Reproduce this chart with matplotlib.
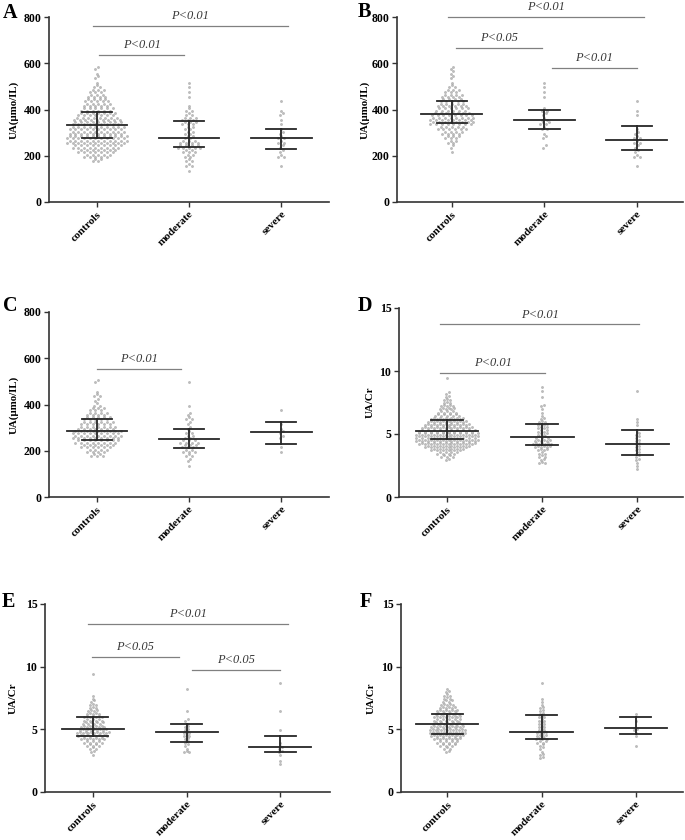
import matplotlib
matplotlib.use("Agg")
import matplotlib.pyplot as plt

plt.rcParams["font.family"] = ["Liberation Serif", "DejaVu Serif"]

groups = ["controls", "moderate", "severe"]

# dot clouds: (value of first bin, dots per bin)
UA_STEP = 20
RATIO_STEP = 0.25

a_controls = (180, [4, 10, 14, 18, 22, 22, 20, 20, 18, 17, 14, 12, 10, 9, 7, 6, 3, 1, 2, 1, 2])
a_moderate = (140, [1, 3, 3, 4, 5, 9, 7, 4, 4, 4, 6, 6, 3, 3, 1, 0, 1, 1, 1, 1])
a_severe = (160, [1, 0, 3, 2, 2, 3, 3, 2, 1, 1, 1, 2, 1, 0, 1])

b_controls = (220, [1, 2, 4, 6, 8, 11, 16, 16, 15, 12, 11, 9, 8, 6, 3, 1, 2, 2, 2])
b_moderate = (240, [2, 0, 2, 1, 3, 4, 3, 2, 3, 0, 0, 1, 1, 1, 1])
b_severe = (160, [1, 0, 3, 2, 2, 3, 3, 2, 1, 0, 0, 1, 1, 0, 1])

c_controls = (180, [5, 8, 12, 16, 18, 18, 14, 12, 10, 8, 6, 3, 2, 3, 1, 0, 2])
c_moderate = (140, [1, 2, 3, 5, 6, 7, 4, 3, 2, 2, 3, 2, 0, 1, 0, 0, 0, 0, 1])
c_severe = (200, [1, 1, 0, 2, 2, 1, 1, 0, 0, 1])

d_controls = (3.0, [2, 5, 8, 12, 16, 20, 22, 22, 22, 20, 18, 16, 14, 12, 9, 7, 6, 5, 3, 3,
                    2, 2, 0, 0, 0, 0, 1])
d_moderate = (2.75, [3, 2, 3, 3, 4, 6, 7, 6, 5, 4, 4, 4, 4, 3, 2, 1, 1, 1, 2, 0, 0, 1, 0, 1, 1])
d_severe = (2.25, [1, 1, 1, 2, 2, 2, 2, 2, 2, 2, 2, 2, 1, 0, 1, 1, 1, 0, 0, 0, 0, 0, 0, 0, 0, 1])

e_controls = (3.0, [1, 2, 3, 5, 7, 9, 11, 12, 10, 9, 8, 7, 7, 5, 4, 3, 3, 2, 1, 1,
                    0, 0, 0, 0, 0, 0, 1])
e_moderate = (3.25, [3, 1, 2, 2, 2, 3, 3, 2, 2, 1, 2, 0, 0, 1, 0, 0, 0, 0, 0, 0, 1])
e_severe = (2.25, [1, 1, 0, 1, 2, 2, 1, 1, 0, 0, 0, 1, 0, 0, 0, 0, 0, 1, 0, 0, 0, 0, 0, 0, 0, 0, 1])

f_controls = (3.25, [2, 3, 6, 8, 10, 12, 13, 13, 12, 11, 10, 10, 9, 8, 6, 5, 4, 3, 3, 2, 1])
f_moderate = (2.75, [2, 2, 1, 2, 2, 4, 5, 4, 4, 3, 3, 3, 3, 3, 2, 2, 2, 1, 1, 1, 0, 0, 0, 0, 1])
f_severe = (3.75, [1, 0, 0, 1, 1, 2, 0, 0, 1, 0, 1])

# median and interquartile range bars
a_median, a_q1, a_q3 = [335, 278, 275], [275, 240, 228], [388, 352, 316]
b_median, b_q1, b_q3 = [382, 355, 268], [340, 316, 226], [435, 400, 327]
c_median, c_q1, c_q3 = [287, 252, 283], [247, 212, 230], [338, 292, 326]
d_median, d_q1, d_q3 = [5.25, 4.75, 4.2], [4.6, 4.15, 3.35], [6.15, 5.8, 5.35]
e_median, e_q1, e_q3 = [5.05, 4.75, 3.6], [4.5, 4.0, 3.2], [5.95, 5.4, 4.5]
f_median, f_q1, f_q3 = [5.4, 4.75, 5.1], [4.6, 4.25, 4.6], [6.2, 6.15, 5.95]

# significance brackets: (x from, x to, height, label)
a_sig = [(0.02, 0.95, 636, "P<0.01"), (-0.04, 2.07, 761, "P<0.01")]
b_sig = [(-0.04, 2.08, 800, "P<0.01"), (0.04, 0.97, 666, "P<0.05"), (1.08, 2.0, 580, "P<0.01")]
c_sig = [(0.0, 0.91, 553, "P<0.01")]
d_sig = [(-0.07, 2.02, 13.7, "P<0.01"), (-0.07, 1.03, 9.84, "P<0.01")]
e_sig = [(-0.05, 2.08, 13.4, "P<0.01"), (-0.01, 0.92, 10.77, "P<0.05"), (1.06, 2.0, 9.73, "P<0.05")]
f_sig = []

W, H = 685, 840
DX = 0.031
LINE = "#262626"


def draw_panel(letter, px_box, xlim, clouds, step, med, q1, q3, sig, ylabel, ymax, yticks,
               ylab_x, letter_xy):
    left, top, right, bottom = px_box
    ax = fig.add_axes([left / W, 1 - bottom / H, (right - left) / W, (bottom - top) / H])
    for i, (start, counts) in enumerate(clouds):
        xs, ys = [], []
        for k, n in enumerate(counts):
            y0 = start + k * step
            for j in range(n):
                xs.append(i + (j - (n - 1) / 2) * DX)
                ys.append(y0 + (0.22 * step if j % 2 else -0.22 * step))
        ax.scatter(xs, ys, s=2.4, color="#bdbdbd", edgecolor="#9c9c9c", linewidth=0.3, zorder=2)
        ax.plot([i - 0.33, i + 0.33], [med[i], med[i]], color=LINE, lw=1.3, zorder=3)
        ax.plot([i - 0.165, i + 0.165], [q1[i], q1[i]], color=LINE, lw=1.3, zorder=3)
        ax.plot([i - 0.165, i + 0.165], [q3[i], q3[i]], color=LINE, lw=1.3, zorder=3)
        ax.plot([i, i], [q1[i], q3[i]], color=LINE, lw=1.3, zorder=3)
    for x0, x1, y, label in sig:
        ax.plot([x0, x1], [y, y], color="#808080", lw=0.9, clip_on=False)
        ax.annotate(label, xy=((x0 + x1) / 2, y), xytext=(0, 7), textcoords="offset points",
                    ha="center", va="center", fontsize=9, style="italic", color="#3a3a3a",
                    annotation_clip=False)
    ax.set_xlim(*xlim)
    ax.set_ylim(0, ymax)
    ax.set_yticks(yticks)
    ax.set_yticklabels([str(t) for t in yticks], fontsize=8.5, fontweight="bold")
    ax.set_xticks(range(len(groups)))
    ax.set_xticklabels(groups, rotation=45, ha="right", rotation_mode="anchor",
                       fontsize=8, fontweight="bold")
    ax.set_ylabel(ylabel, fontsize=7.8, fontweight="bold")
    ax.yaxis.set_label_coords(ylab_x, 0.5)
    for side in ("top", "right"):
        ax.spines[side].set_visible(False)
    for side in ("left", "bottom"):
        ax.spines[side].set_linewidth(1.2)
        ax.spines[side].set_color("#333333")
    ax.tick_params(length=3.5, width=1.0, color="#333333", pad=2)
    fig.text(letter_xy[0] / W, 1 - letter_xy[1] / H, letter, fontsize=14.5, fontweight="bold",
             va="baseline", ha="left")
    return ax


fig = plt.figure(figsize=(W / 100, H / 100), dpi=100)

ua_ticks = [0, 200, 400, 600, 800]
ratio_ticks = [0, 5, 10, 15]

draw_panel("A", (49, 17, 329, 202), (-0.52, 2.52), [a_controls, a_moderate, a_severe], UA_STEP,
           a_median, a_q1, a_q3, a_sig, "UA(µmo/IL)", 800, ua_ticks, -0.11, (3, 18))
draw_panel("B", (397, 17, 683, 202), (-0.595, 2.5), [b_controls, b_moderate, b_severe], UA_STEP,
           b_median, b_q1, b_q3, b_sig, "UA(µmo/IL)", 800, ua_ticks, -0.095, (358, 17))
draw_panel("C", (49, 312, 329, 497), (-0.52, 2.52), [c_controls, c_moderate, c_severe], UA_STEP,
           c_median, c_q1, c_q3, c_sig, "UA(µmo/IL)", 800, ua_ticks, -0.11, (3, 311))
draw_panel("D", (399, 308, 683, 497), (-0.505, 2.48), [d_controls, d_moderate, d_severe],
           RATIO_STEP, d_median, d_q1, d_q3, d_sig, "UA/Cr", 15, ratio_ticks, -0.085, (358, 311))
draw_panel("E", (45, 604, 330, 792), (-0.51, 2.53), [e_controls, e_moderate, e_severe],
           RATIO_STEP, e_median, e_q1, e_q3, e_sig, "UA/Cr", 15, ratio_ticks, -0.095, (2, 607))
draw_panel("F", (401, 604, 683, 792), (-0.49, 2.5), [f_controls, f_moderate, f_severe],
           RATIO_STEP, f_median, f_q1, f_q3, f_sig, "UA/Cr", 15, ratio_ticks, -0.089, (360, 607))

fig.savefig("out.png", dpi=100, facecolor="white")
